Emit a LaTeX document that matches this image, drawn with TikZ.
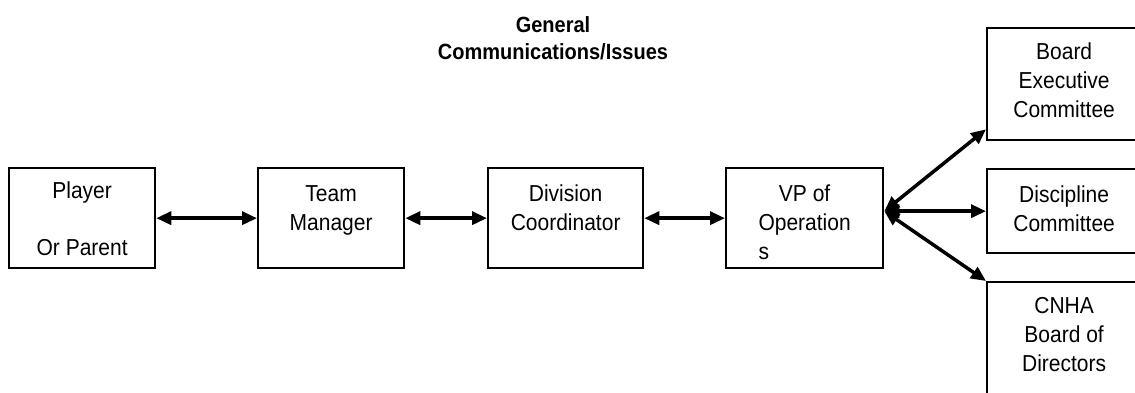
\documentclass[tikz,border=0pt]{standalone}
\usepackage{fontspec}
\setmainfont{Liberation Sans}
\usetikzlibrary{arrows.meta}
\newcommand{\tallt}[1]{\scalebox{1}[1.1]{#1}}
\begin{document}
\begin{tikzpicture}[x=1pt,y=-1pt,
  box/.style={draw,line width=2.3pt,inner sep=0pt,anchor=north west},
  txt/.style={font=\fontsize{21}{29}\selectfont,align=center,anchor=north,inner sep=0pt,yshift=-18pt},
  link/.style={line width=3.5pt,{Triangle[length=15pt,width=13pt]}-{Triangle[length=15pt,width=13pt]}}]
\useasboundingbox (0,0) rectangle (1135,393);
\clip (0,0) rectangle (1135,393);
% boxes
\node[box,minimum width=146pt,minimum height=100pt] (player) at (8,167) {};
\node[box,minimum width=146pt,minimum height=100pt] (team) at (257,167) {};
\node[box,minimum width=155pt,minimum height=100pt] (div) at (487,167) {};
\node[box,minimum width=157pt,minimum height=100pt] (vp) at (725,167) {};
\node[box,minimum width=154pt,minimum height=112pt] (board) at (986,27) {};
\node[box,minimum width=154pt,minimum height=84pt] (disc) at (986,168) {};
\node[box,minimum width=154pt,minimum height=130pt] (cnha) at (986,281) {};
% texts
\node[txt,yshift=3pt] (playert) at (player.north) {\tallt{Player}\\[28pt]\tallt{Or Parent}};
\node[txt] (teamt) at (team.north) {\tallt{Team}\\\tallt{Manager}};
\node[txt] (divt) at (div.north) {\tallt{Division}\\\tallt{Coordinator}};
\node[txt] (vpt) at (vp.north) {\tallt{VP of}\\\tallt{Operation}\\\tallt{\rlap{s}\phantom{Operation}}};
\node[txt,yshift=2pt] (boardt) at (board.north) {\tallt{Board}\\\tallt{Executive}\\\tallt{Committee}};
\node[txt] (disct) at (disc.north) {\tallt{Discipline}\\\tallt{Committee}};
\node[txt,yshift=2pt] (cnhat) at (cnha.north) {\tallt{CNHA}\\\tallt{Board of}\\\tallt{Directors}};
\node[font=\bfseries\fontsize{20}{27}\selectfont,align=center,anchor=north,inner sep=0pt] (title) at (553,16) {\tallt{General}\\\tallt{Communications/Issues}};
% connectors
\coordinate (hub) at ([yshift=7pt]vp.east);
\draw[link] (player.east) -- (team.west);
\draw[link] (team.east) -- (div.west);
\draw[link] (div.east) -- (vp.west);
\draw[link] (hub) -- ([yshift=12pt]board.south west);
\draw[link] (hub) -- (disc.west);
\draw[link] (hub) -- (cnha.north west);
\end{tikzpicture}
\end{document}
